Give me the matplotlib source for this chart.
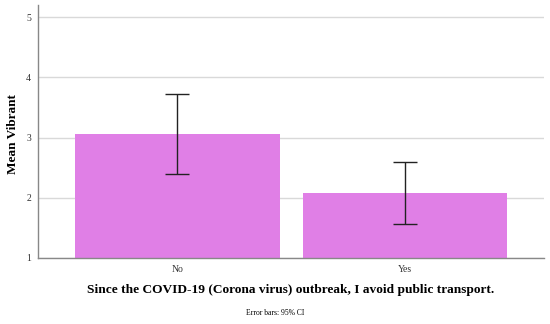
import matplotlib.pyplot as plt

categories = ['No', 'Yes']
means = [3.06, 2.08]
ci_low = [2.40, 1.57]
ci_high = [3.72, 2.60]
yticks = [1, 2, 3, 4, 5]

plt.rcParams['font.family'] = 'Liberation Serif'

fig = plt.figure(figsize=(5.5, 3.24), dpi=100)
ax = fig.add_axes([0.069, 0.204, 0.92, 0.78])

x = list(range(len(categories)))
err = [[m - lo for m, lo in zip(means, ci_low)], [hi - m for m, hi in zip(means, ci_high)]]
ax.bar(x, [m - 1 for m in means], bottom=1, width=0.9, color='#e07fe6', zorder=2)
ax.errorbar(x, means, yerr=err, fmt='none', ecolor='#222222', elinewidth=1,
            capsize=8.6, capthick=1, zorder=3)

ax.set_xlim(-0.613, 1.611)
ax.set_ylim(1, 5.2)
ax.set_yticks(yticks)
ax.set_xticks(x)
ax.set_xticklabels(categories)
ax.yaxis.grid(True, color='#d9d9d9', lw=1, zorder=0)
ax.tick_params(length=0, labelsize=7, colors='#333333', pad=5)
for s in ['top', 'right']:
    ax.spines[s].set_visible(False)
for s in ['left', 'bottom']:
    ax.spines[s].set_color('#888888')
    ax.spines[s].set_linewidth(1)

fig.text(0.024, 0.585, 'Mean Vibrant', rotation=90, ha='center', va='center',
         fontsize=9.5, fontweight='bold')
ax.set_xlabel('Since the COVID-19 (Corona virus) outbreak, I avoid public transport.',
              fontsize=9.6, fontweight='bold', labelpad=7)
fig.text(0.5, 0.035, 'Error bars: 95% CI', ha='center', va='center', fontsize=5.5)

fig.savefig('out.png', dpi=100)
